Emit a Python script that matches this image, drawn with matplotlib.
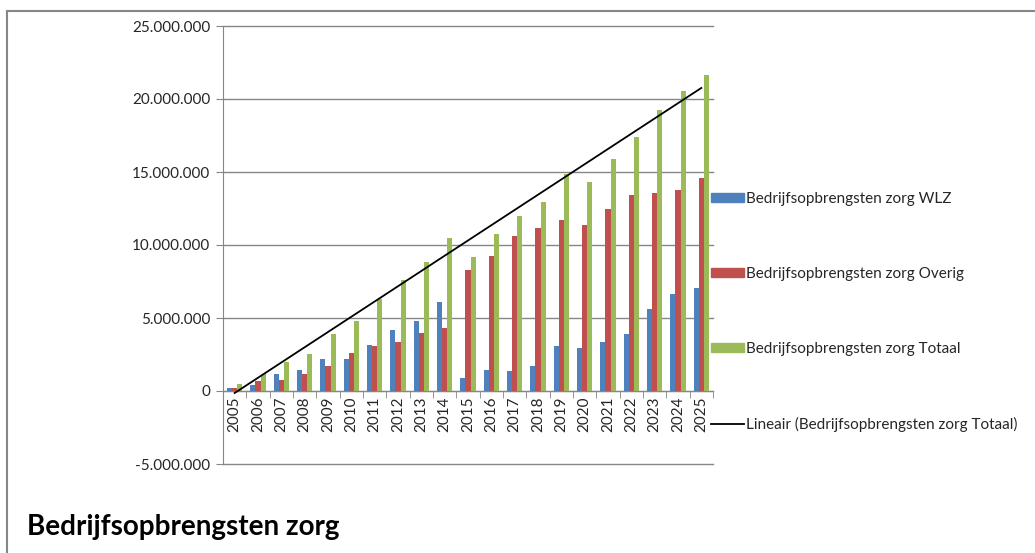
import numpy as np
import matplotlib.pyplot as plt
from matplotlib.ticker import FuncFormatter, MultipleLocator
from matplotlib.lines import Line2D
from matplotlib.patches import Patch

# data
jaren = list(range(2005, 2026))
wlz = [0.23, 0.39, 1.19, 1.42, 2.19, 2.19, 3.13, 4.20, 4.79, 6.10, 0.91,
       1.46, 1.35, 1.74, 3.08, 2.97, 3.36, 3.93, 5.59, 6.67, 7.05]
overig = [0.18, 0.68, 0.73, 1.14, 1.69, 2.60, 3.08, 3.38, 4.00, 4.32, 8.26,
          9.27, 10.62, 11.16, 11.74, 11.35, 12.47, 13.40, 13.58, 13.79, 14.57]
totaal = [0.46, 1.14, 1.99, 2.51, 3.93, 4.79, 6.28, 7.58, 8.81, 10.46, 9.16,
          10.73, 11.96, 12.92, 14.84, 14.29, 15.87, 17.37, 19.22, 20.53, 21.67]

wlz = np.array(wlz) * 1e6
overig = np.array(overig) * 1e6
totaal = np.array(totaal) * 1e6
x = np.array(jaren)

kleur_wlz = '#4F81BD'
kleur_overig = '#C0504D'
kleur_totaal = '#9BBB59'
grijs = '#868686'
tekst = '#262626'

plt.rcParams['font.family'] = ['Lato', 'DejaVu Sans']
fs = 11

fig = plt.figure(figsize=(10.35, 5.53), dpi=100)
ax = fig.add_axes([223 / 1035, 1 - 464 / 553, 490 / 1035, 438 / 553])

w = 0.222
ax.bar(x - w, wlz, w, color=kleur_wlz, zorder=3)
ax.bar(x, overig, w, color=kleur_overig, zorder=3)
ax.bar(x + w, totaal, w, color=kleur_totaal, zorder=3)

# lineaire trendlijn op totaal
coef = np.polyfit(x, totaal, 1)
ax.plot(x, np.polyval(coef, x), color='black', lw=1.3, zorder=4)

ax.set_xlim(2004.5, 2025.5)
ax.set_ylim(-5e6, 25e6)
ax.yaxis.set_major_locator(MultipleLocator(5e6))
ax.yaxis.set_major_formatter(FuncFormatter(lambda v, p: f'{v:,.0f}'.replace(',', '.')))
ax.grid(axis='y', color=grijs, lw=1, zorder=0)
ax.set_axisbelow(True)
for gl in ax.get_ygridlines():
    gl.set_clip_on(False)

ax.set_xticks(x)
ax.set_xticklabels([str(j) for j in jaren])
ax.set_xticks(np.arange(2004.5, 2026, 1), minor=True)
ax.tick_params(axis='x', which='major', length=0, pad=4, labelrotation=90,
               labelsize=fs, labelcolor=tekst)
ax.tick_params(axis='x', which='minor', length=5, color=grijs, direction='out')
ax.tick_params(axis='y', length=5, color=grijs, labelsize=fs, labelcolor=tekst, pad=4)

for s in ['top', 'right']:
    ax.spines[s].set_visible(False)
ax.spines['bottom'].set_position(('data', 0))
ax.spines['bottom'].set_color(grijs)
ax.spines['left'].set_color(grijs)

handles = [Patch(color=kleur_wlz), Patch(color=kleur_overig), Patch(color=kleur_totaal),
           Line2D([], [], color='black', lw=1.3)]
labels = ['Bedrijfsopbrengsten zorg WLZ', 'Bedrijfsopbrengsten zorg Overig',
          'Bedrijfsopbrengsten zorg Totaal', 'Lineair (Bedrijfsopbrengsten zorg Totaal)']
leg = fig.legend(handles, labels, loc='center left', bbox_to_anchor=(711 / 1035, 1 - 312 / 553),
                 frameon=False, fontsize=fs, handlelength=2.15, handleheight=0.55,
                 handletextpad=0.15, labelspacing=4.0, borderpad=0, borderaxespad=0)
for t in leg.get_texts():
    t.set_color(tekst)

# rand van het diagram
fig.add_artist(Line2D([7 / 1035, 1], [1 - 11 / 553, 1 - 11 / 553], color=grijs, lw=1.5))
fig.add_artist(Line2D([7 / 1035, 7 / 1035], [0, 1 - 11 / 553], color=grijs, lw=1.5))

fig.text(27 / 1035, 1 - 527 / 553, 'Bedrijfsopbrengsten zorg', fontsize=20,
         fontweight='bold', va='center', ha='left')

fig.savefig('out.png', dpi=100)
